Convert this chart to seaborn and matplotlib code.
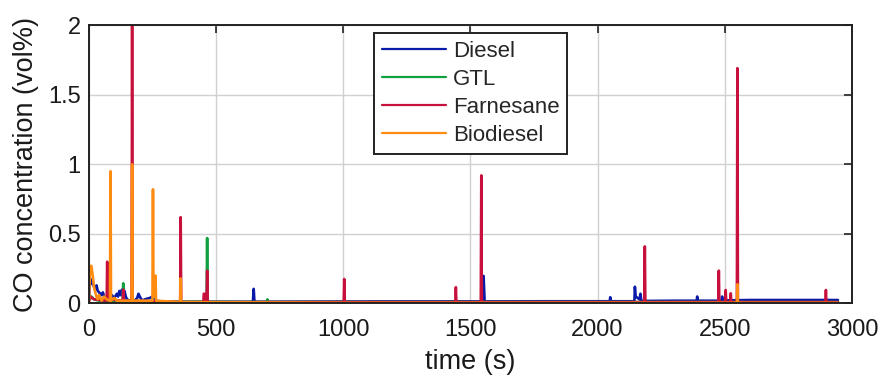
import matplotlib
matplotlib.use("Agg")
import matplotlib.pyplot as plt
import seaborn as sns
import pandas as pd

# ---------------- data ----------------
diesel_t = [0, 5, 10, 15, 20, 25, 30, 35, 40, 45, 50, 55, 60, 70, 80, 90, 100, 110, 115, 120,
            125, 130, 135, 140, 145, 150, 160, 170, 180, 190, 195, 200, 210, 220, 240, 250, 255,
            260, 300, 400, 500, 645, 648, 651, 800, 1000, 1200, 1400, 1548, 1552, 1556, 1800,
            2000, 2048, 2050, 2052, 2145, 2147, 2150, 2165, 2169, 2172, 2300, 2390, 2392, 2394,
            2488, 2490, 2492, 2600, 2700, 2800, 2945]
diesel_v = [0.02, 0.18, 0.14, 0.16, 0.12, 0.10, 0.13, 0.09, 0.08, 0.07, 0.06, 0.08, 0.05, 0.04,
            0.03, 0.06, 0.04, 0.07, 0.05, 0.09, 0.06, 0.10, 0.07, 0.09, 0.05, 0.03, 0.02, 0.03,
            0.02, 0.04, 0.07, 0.05, 0.02, 0.03, 0.04, 0.05, 0.03, 0.02, 0.012, 0.012, 0.012,
            0.012, 0.105, 0.012, 0.013, 0.014, 0.015, 0.015, 0.015, 0.198, 0.015, 0.016, 0.016,
            0.016, 0.045, 0.016, 0.016, 0.12, 0.05, 0.03, 0.07, 0.018, 0.02, 0.02, 0.05, 0.02,
            0.02, 0.05, 0.022, 0.025, 0.025, 0.025, 0.025]

gtl_t = [0, 10, 20, 40, 80, 133, 135, 137, 300, 463, 465, 467, 700, 702, 704, 1500, 2945]
gtl_v = [0.02, 0.05, 0.03, 0.02, 0.02, 0.02, 0.145, 0.02, 0.012, 0.012, 0.47, 0.012, 0.01,
         0.03, 0.01, 0.01, 0.01]

farn_t = [0, 5, 20, 70, 72, 74, 133, 135, 137, 168, 170, 172, 359, 361, 363, 450, 452, 455, 463,
          465, 467, 1002, 1004, 1006, 1441, 1443, 1445, 1541, 1543, 1545, 2184, 2186, 2188,
          2475, 2477, 2479, 2502, 2504, 2506, 2522, 2524, 2526, 2548, 2550, 2552, 2896, 2898,
          2900, 2945]
farn_v = [0.01, 0.05, 0.03, 0.02, 0.30, 0.03, 0.02, 0.10, 0.02, 0.02, 2.0, 0.02, 0.01, 0.62, 0.01,
          0.01, 0.07, 0.07, 0.01, 0.236, 0.01, 0.01, 0.176, 0.01, 0.01, 0.117, 0.01, 0.01, 0.92,
          0.01, 0.01, 0.41, 0.01, 0.01, 0.236, 0.01, 0.01, 0.097, 0.01, 0.01, 0.073, 0.01, 0.01,
          1.69, 0.01, 0.01, 0.097, 0.01, 0.01]

bio_t = [0, 5, 10, 15, 20, 25, 30, 35, 40, 50, 60, 70, 83, 85, 87, 100, 110, 168, 170, 172, 250,
         252, 254, 260, 262, 264, 359, 361, 363, 1000, 2548, 2550, 2552, 2945]
bio_v = [0.0, 0.27, 0.27, 0.20, 0.12, 0.08, 0.05, 0.03, 0.06, 0.02, 0.05, 0.03, 0.02, 0.95, 0.02,
         0.04, 0.02, 0.02, 1.0, 0.02, 0.02, 0.82, 0.05, 0.05, 0.20, 0.02, 0.01, 0.18, 0.01,
         0.005, 0.005, 0.138, 0.005, 0.005]

names = ["Diesel", "GTL", "Farnesane", "Biodiesel"]
colors = {"Diesel": "#0a1aa8", "GTL": "#10a040", "Farnesane": "#c8103c", "Biodiesel": "#ff8c10"}
x_ticks = [0, 500, 1000, 1500, 2000, 2500, 3000]
y_ticks = [0, 0.5, 1, 1.5, 2]
y_tick_labels = ["0", "0.5", "1", "1.5", "2"]

frames = []
for name, t, v in [("Diesel", diesel_t, diesel_v), ("GTL", gtl_t, gtl_v),
                   ("Farnesane", farn_t, farn_v), ("Biodiesel", bio_t, bio_v)]:
    frames.append(pd.DataFrame({"time": t, "co": v, "fuel": name}))
df = pd.concat(frames, ignore_index=True)

# ---------------- plot ----------------
sns.set_theme(style="whitegrid")
plt.rcParams["font.family"] = ["Liberation Sans", "DejaVu Sans"]

fig = plt.figure(figsize=(8.8, 3.82), dpi=100)
ax = fig.add_axes([0.101, 0.2055, 0.867, 0.729])

sns.lineplot(data=df, x="time", y="co", hue="fuel", hue_order=names, palette=colors,
             estimator=None, sort=False, linewidth=1.9, ax=ax)

ax.set_xlim(0, 3000)
ax.set_ylim(0, 2)
ax.set_xticks(x_ticks)
ax.set_xticklabels([str(x) for x in x_ticks])
ax.set_yticks(y_ticks)
ax.set_yticklabels(y_tick_labels)
ax.grid(True, color="#d0d0d0", linewidth=1.0)
ax.set_facecolor("white")
for s in ax.spines.values():
    s.set_color("#222222")
    s.set_linewidth(1.4)
ax.tick_params(direction="in", length=6, width=1.2, color="#222222", top=True, right=True,
               labelsize=17, labelcolor="#1a1a1a")
ax.tick_params(axis="x", pad=11)
ax.tick_params(axis="y", pad=6)
ax.set_xlabel("time (s)", fontsize=19.5, color="#1a1a1a", labelpad=6)
ax.set_ylabel("CO concentration (vol%)", fontsize=19.5, color="#1a1a1a", labelpad=6)

leg = ax.legend(loc="upper left", bbox_to_anchor=(0.3735, 0.971), borderaxespad=0,
                fontsize=16, handlelength=2.9, handletextpad=0.3, labelspacing=0.32,
                fancybox=False, framealpha=1, edgecolor="#222222", borderpad=0.35)
leg.get_frame().set_linewidth(1.4)
for line in leg.get_lines():
    line.set_linewidth(1.6)

fig.savefig("out.png", dpi=100, facecolor="white")
